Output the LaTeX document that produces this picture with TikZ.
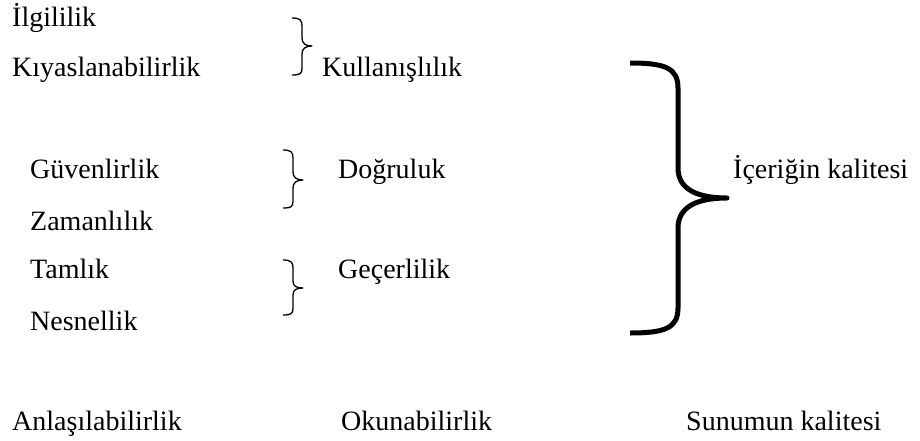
\documentclass[tikz,border=0pt]{standalone}
\usepackage{fontspec}
\setmainfont{Liberation Serif}
\begin{document}
\begin{tikzpicture}[x=1pt, y=-1pt,
    every node/.style={inner sep=0pt, anchor=base west, font=\fontsize{28}{34}\selectfont},
    thinbrace/.style={line width=1.3pt, line join=round},
    thickbrace/.style={line width=5pt, line join=round}]
    \useasboundingbox (0,0) rectangle (920,441);
    % Metinler
    \node (ilg) at (12,27) {İlgililik};
    \node (kiy) at (12,77) {Kıyaslanabilirlik};
    \node (kul) at (322,77) {Kullanışlılık};
    \node (guv) at (30,178) {Güvenlirlik};
    \node (zam) at (30,230) {Zamanlılık};
    \node (dog) at (338,178) {Doğruluk};
    \node (tam) at (30,278) {Tamlık};
    \node (nes) at (30,330) {Nesnellik};
    \node (gec) at (338,278) {Geçerlilik};
    \node (ice) at (733,178) {İçeriğin kalitesi};
    \node (anl) at (12,430) {Anlaşılabilirlik};
    \node (oku) at (341,430) {Okunabilirlik};
    \node (sun) at (686,430) {Sunumun kalitesi};

    % Parantezler
    \draw[thinbrace] (292,18) .. controls (300,18) and (302,20) .. (302,26) -- (302,38)
        .. controls (302,43) and (305,46) .. (312,46) .. controls (305,46) and (302,49) .. (302,54)
        -- (302,68) .. controls (302,74) and (300,75) .. (292,75);
    \draw[thinbrace] (283,150) .. controls (291,150) and (293,152) .. (293,158) -- (293,172)
        .. controls (293,177) and (296,180) .. (303,180) .. controls (296,180) and (293,183) .. (293,188)
        -- (293,201) .. controls (293,207) and (291,208) .. (283,208);
    \draw[thinbrace] (283,260) .. controls (291,260) and (293,262) .. (293,268) -- (293,281)
        .. controls (293,286) and (296,288) .. (303,288) .. controls (296,288) and (293,290) .. (293,295)
        -- (293,308) .. controls (293,314) and (291,315) .. (283,315);
    \draw[thickbrace] (630,63) .. controls (665,63) and (678,68) .. (678,88) -- (678,168)
        .. controls (678,188) and (695,198) .. (727,198) .. controls (695,198) and (678,208) .. (678,228)
        -- (678,308) .. controls (678,328) and (665,333) .. (630,333);
\end{tikzpicture}
\end{document}
